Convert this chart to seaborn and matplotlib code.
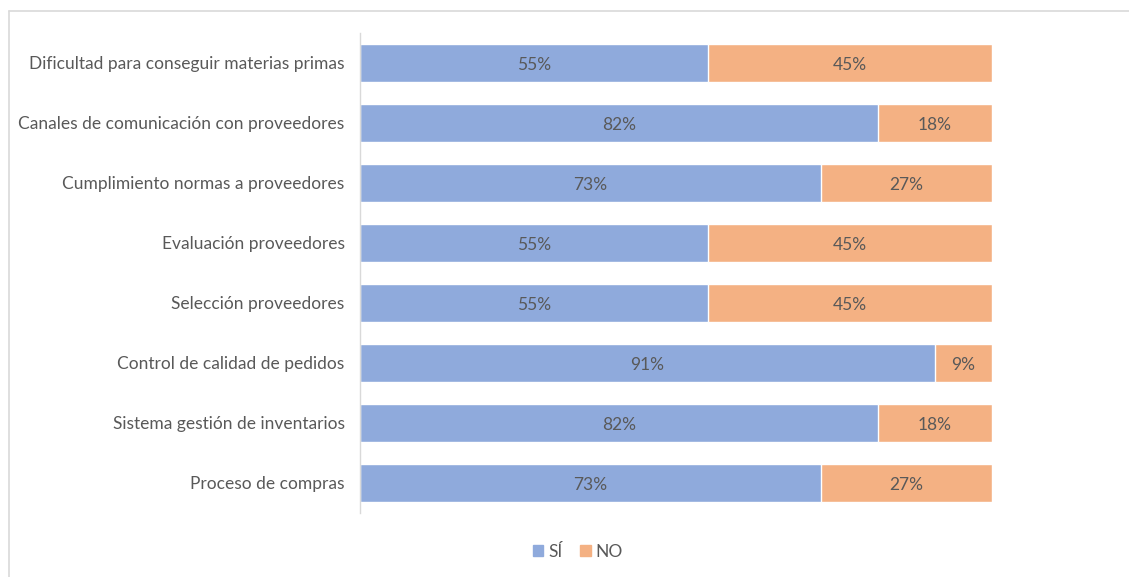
import matplotlib
matplotlib.use("Agg")
import matplotlib.pyplot as plt
from matplotlib.lines import Line2D
import seaborn as sns
import pandas as pd

categories = [
    "Dificultad para conseguir materias primas",
    "Canales de comunicación con proveedores",
    "Cumplimiento normas a proveedores",
    "Evaluación proveedores",
    "Selección proveedores",
    "Control de calidad de pedidos",
    "Sistema gestión de inventarios",
    "Proceso de compras",
]
si_values = [55, 82, 73, 55, 55, 91, 82, 73]
no_values = [45, 18, 27, 45, 45, 9, 18, 27]
series_names = ["SÍ", "NO"]

BLUE = "#8FAADC"
ORANGE = "#F4B183"
LABEL_COLOR = "#595959"
VALUE_COLOR = "#595959"

sns.set_theme(style="white")
plt.rcParams["font.family"] = ["Lato", "DejaVu Sans"]

df = pd.DataFrame({"categoria": categories, "SI": si_values, "NO": no_values})
df["total"] = df["SI"] + df["NO"]

W, H = 1129, 577
fig = plt.figure(figsize=(W / 100, H / 100), dpi=100)
ax = fig.add_axes([360 / W, 1 - 513 / H, (992 - 360) / W, (513 - 33) / H])

bar_w = 0.63
sns.barplot(data=df, y="categoria", x="total", color=ORANGE, ax=ax,
            width=bar_w, orient="h", saturation=1, edgecolor="white",
            linewidth=1)
sns.barplot(data=df, y="categoria", x="SI", color=BLUE, ax=ax,
            width=bar_w, orient="h", saturation=1, edgecolor="white",
            linewidth=1)

for i, (s, n) in enumerate(zip(si_values, no_values)):
    ax.text(s / 2, i, f"{s}%", ha="center", va="center_baseline", fontsize=12.5,
            color=VALUE_COLOR)
    ax.text(s + n / 2, i, f"{n}%", ha="center", va="center_baseline", fontsize=12.5,
            color=VALUE_COLOR)

ax.set_xlim(0, 100)
ax.set_ylim(len(categories) - 0.5, -0.5)
ax.set_xlabel("")
ax.set_ylabel("")
ax.set_xticks([])
for side in ["top", "right", "bottom"]:
    ax.spines[side].set_visible(False)
ax.spines["left"].set_color("#D9D9D9")
ax.spines["left"].set_linewidth(1)
ax.tick_params(axis="y", length=0, pad=11, labelsize=12.5, labelcolor=LABEL_COLOR)

handles = [
    plt.Rectangle((0, 0), 1, 1, color=BLUE),
    plt.Rectangle((0, 0), 1, 1, color=ORANGE),
]
leg = fig.legend(handles, series_names, loc="center", bbox_to_anchor=(578 / W, 1 - 552 / H),
                 ncol=2, frameon=False, fontsize=12.5, handlelength=0.6,
                 handleheight=0.6, handletextpad=0.3, columnspacing=1.0)
for t in leg.get_texts():
    t.set_color(LABEL_COLOR)

fig.add_artist(Line2D([8.5 / W, 1.0], [1 - 11 / H, 1 - 11 / H], color="#D9D9D9", lw=1.2,
                      transform=fig.transFigure))
fig.add_artist(Line2D([8.5 / W, 8.5 / W], [0, 1 - 11 / H], color="#D9D9D9", lw=1.2,
                      transform=fig.transFigure))

fig.savefig("out.png", dpi=100, facecolor="white")
